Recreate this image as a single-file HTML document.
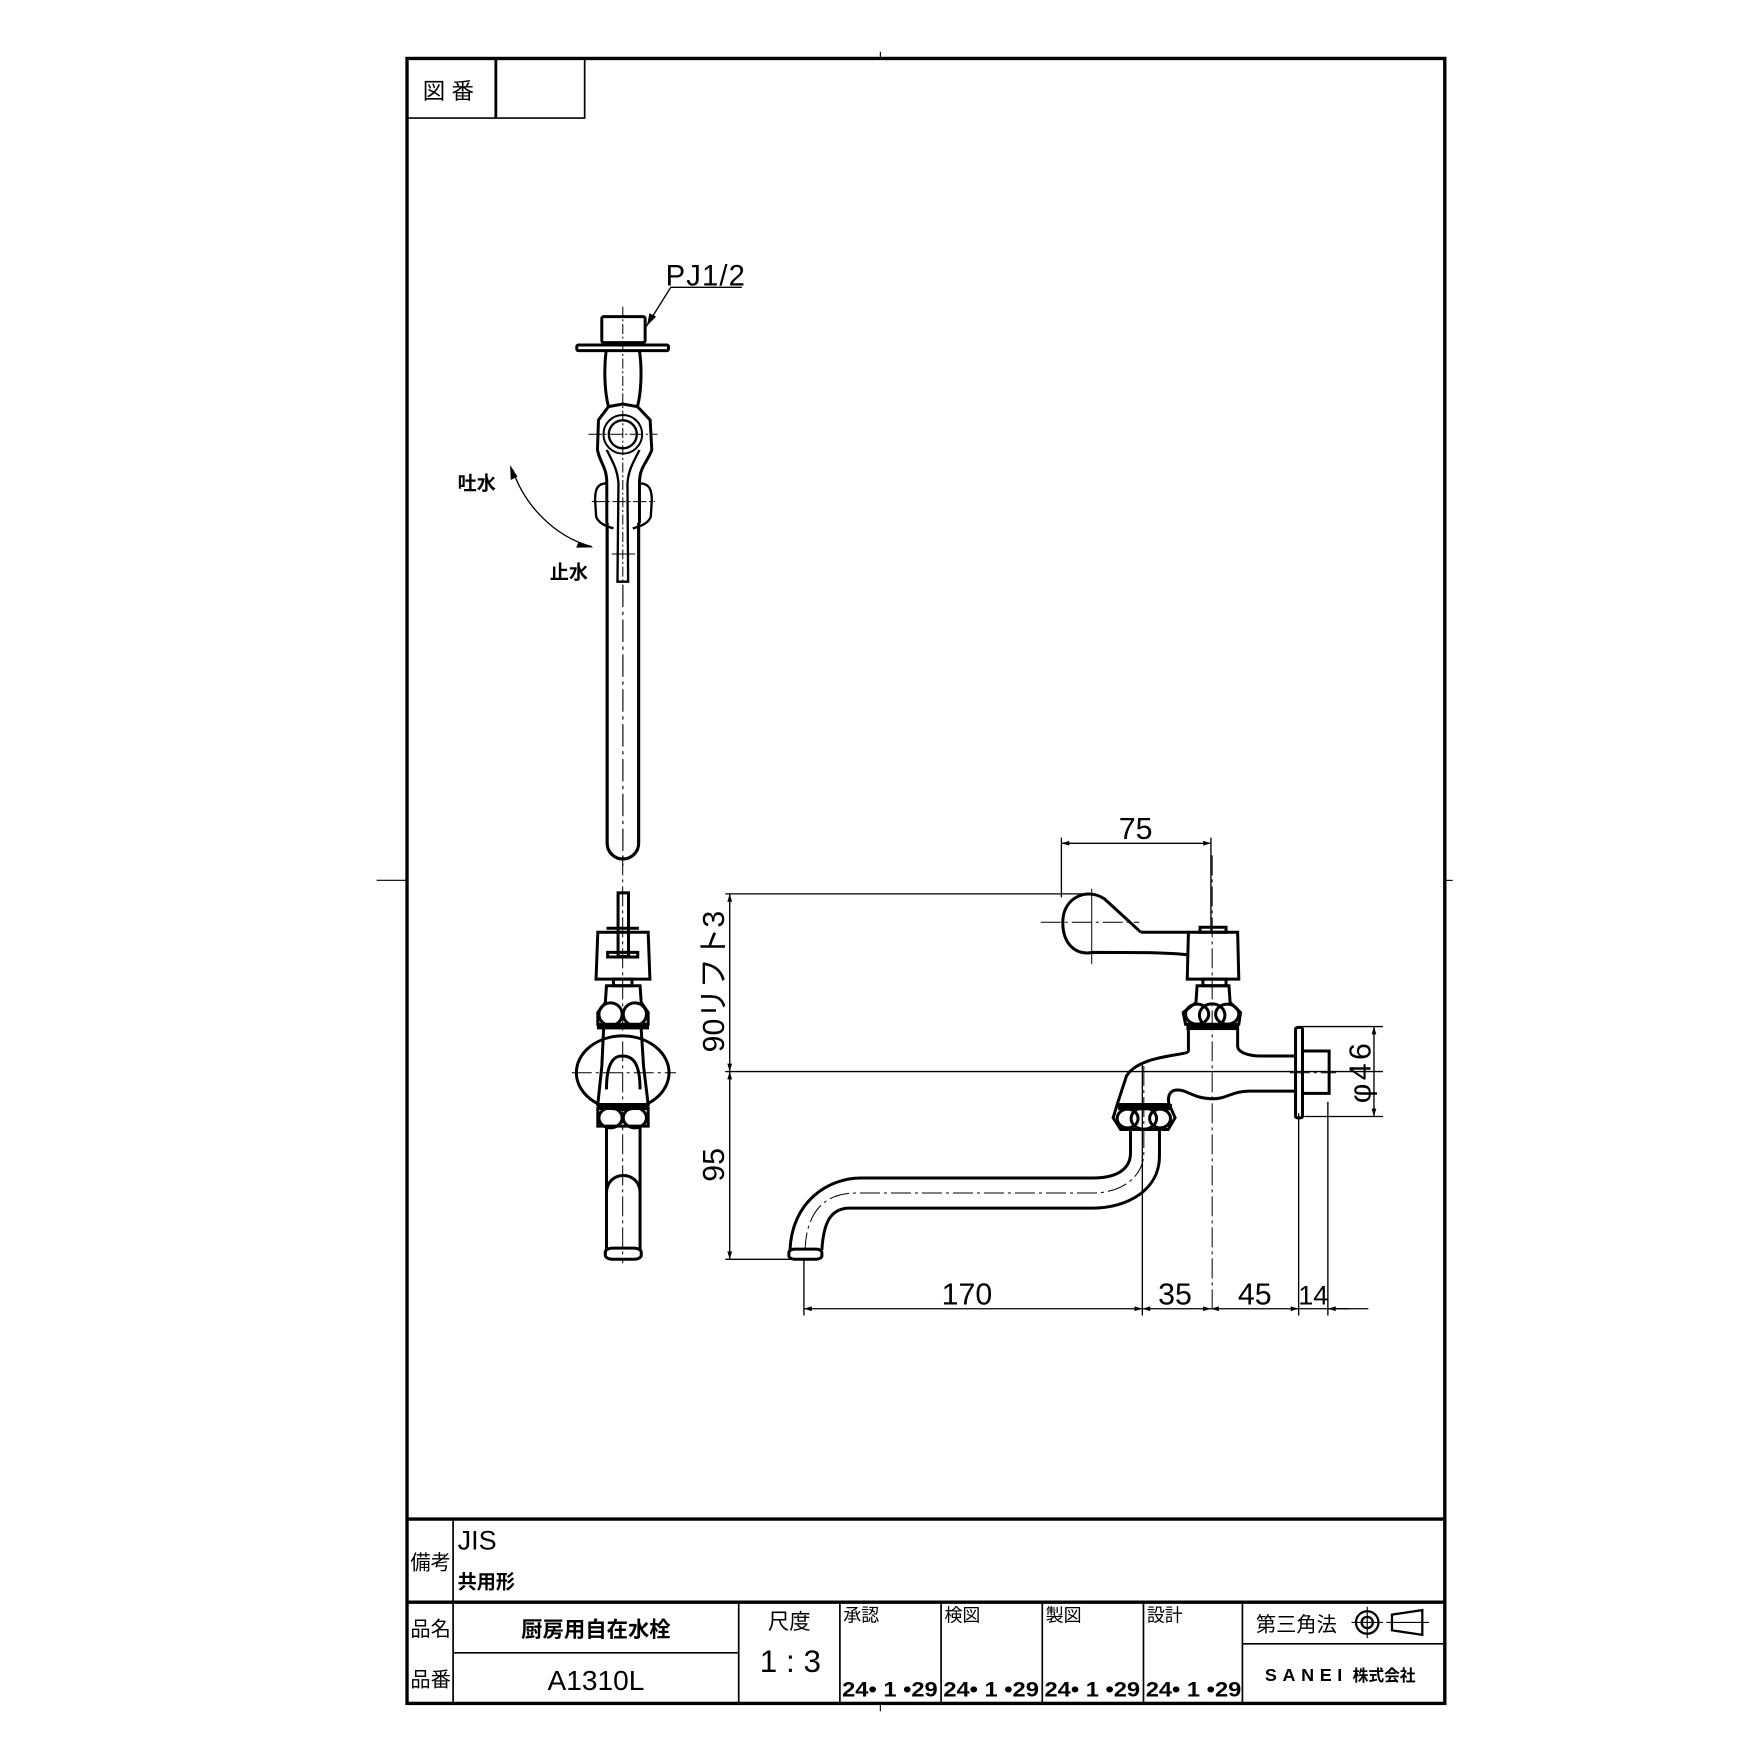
<!DOCTYPE html>
<html><head><meta charset="utf-8"><style>html,body{margin:0;padding:0;background:#fff}svg{display:block}</style></head>
<body>
<svg xmlns="http://www.w3.org/2000/svg" width="1754" height="1754" viewBox="0 0 1560 1560" font-family="'Liberation Sans','Noto Sans CJK JP',sans-serif">
<rect width="1560" height="1560" fill="#fff"/>
<defs>
<marker id="ar" viewBox="0 0 10 10" refX="10" refY="5" markerWidth="14" markerHeight="7" markerUnits="userSpaceOnUse" orient="auto-start-reverse"><path d="M0,2 L10,5 L0,8 z" fill="#000"/></marker>
</defs>
<!-- frame -->
<g fill="none" stroke="#000">
<rect x="362" y="52" width="923" height="1463" stroke-width="3"/>
<line x1="783" y1="46" x2="783" y2="52" stroke-width="1"/>
<line x1="335" y1="783" x2="362" y2="783" stroke-width="1"/>
<line x1="1285" y1="783" x2="1292" y2="783" stroke-width="1"/>
<line x1="783" y1="1515" x2="783" y2="1522" stroke-width="1"/>
<polyline points="362,105 520,105 520,52" stroke-width="1.5"/>
<line x1="441" y1="52" x2="441" y2="105" stroke-width="2.5"/>
<line x1="362" y1="1351" x2="1285" y2="1351" stroke-width="3"/>
<line x1="362" y1="1425" x2="1285" y2="1425" stroke-width="3"/>
<line x1="403" y1="1351" x2="403" y2="1515" stroke-width="1.5"/>
<line x1="403" y1="1470" x2="657" y2="1470" stroke-width="1.5"/>
<line x1="657" y1="1425" x2="657" y2="1515" stroke-width="1.5"/>
<line x1="747" y1="1425" x2="747" y2="1515" stroke-width="1.5"/>
<line x1="837" y1="1425" x2="837" y2="1515" stroke-width="1.5"/>
<line x1="927" y1="1425" x2="927" y2="1515" stroke-width="1.5"/>
<line x1="1017" y1="1425" x2="1017" y2="1515" stroke-width="1.5"/>
<line x1="1105" y1="1425" x2="1105" y2="1515" stroke-width="1.5"/>
<line x1="1105" y1="1462" x2="1285" y2="1462" stroke-width="1.5"/>
</g>
<g font-size="20">
<text x="376" y="88">図 番</text>
<text x="365" y="1396" font-size="18">備考</text>
<text x="407" y="1378" font-size="24">JIS</text>
<text x="407" y="1413" font-size="17" font-weight="bold">共用形</text>
<text x="365" y="1455" font-size="18">品名</text>
<text x="365" y="1500" font-size="18">品番</text>
<text x="530" y="1456" font-size="19" font-weight="bold" text-anchor="middle">厨房用自在水栓</text>
<text x="530" y="1503" font-size="25" text-anchor="middle">A1310L</text>
<text x="702" y="1449" font-size="19" text-anchor="middle">尺度</text>
<text x="703" y="1487" font-size="28" text-anchor="middle">1 : 3</text>
<text x="750" y="1442" font-size="16">承認</text>
<text x="840" y="1442" font-size="16">検図</text>
<text x="930" y="1442" font-size="16">製図</text>
<text x="1020" y="1442" font-size="16">設計</text>
<g font-size="19" font-weight="bold">
<text x="749" y="1509" textLength="85" lengthAdjust="spacingAndGlyphs">24• 1 •29</text>
<text x="839" y="1509" textLength="85" lengthAdjust="spacingAndGlyphs">24• 1 •29</text>
<text x="929" y="1509" textLength="85" lengthAdjust="spacingAndGlyphs">24• 1 •29</text>
<text x="1019" y="1509" textLength="85" lengthAdjust="spacingAndGlyphs">24• 1 •29</text>
</g>
<text x="1117" y="1451" font-size="18">第三角法</text>
<text x="1125" y="1495" font-size="16" font-weight="bold" letter-spacing="5">SANEI</text>
<text x="1203" y="1495" font-size="14" font-weight="bold">株式会社</text>
</g>
<g fill="none" stroke="#000">
<circle cx="1216" cy="1443" r="10" stroke-width="2"/><circle cx="1216" cy="1443" r="5" stroke-width="2"/>
<line x1="1202" y1="1443" x2="1230" y2="1443" stroke-width="1"/><line x1="1216" y1="1429" x2="1216" y2="1457" stroke-width="1"/>
<path d="M1238,1436 L1265,1432 L1265,1454 L1238,1450 z" stroke-width="2"/>
<line x1="1233" y1="1443" x2="1271" y2="1443" stroke-width="1"/>
</g>

<!-- top view -->
<g transform="translate(385.5,222.3) scale(0.2965)" fill="none" stroke="#000" stroke-width="9">
<rect x="505" y="200" width="130" height="78" rx="6"/>
<rect x="430" y="285" width="275" height="17" rx="5"/>
<path d="M518,302 C512,350 512,420 525,470 L495,510 L492,600 C500,640 520,650 520,700 L520,820"/>
<path d="M618,302 C625,350 625,420 612,470 L650,510 L655,600 C640,640 618,650 618,700 L618,820"/>
<path d="M525,470 L568,462 L612,470"/>
<circle cx="568" cy="553" r="42" stroke-width="7"/>
<circle cx="568" cy="553" r="58" stroke-width="6"/>
<path d="M520,600 C540,640 552,660 555,700 L552,995 L584,995 L582,700 C585,660 598,640 618,600" stroke-width="7"/>
<path d="M520,700 C490,700 485,720 485,750 L488,800 C495,820 520,830 540,835" stroke-width="7"/>
<path d="M618,700 C648,700 655,720 655,750 L652,800 C645,820 620,830 598,835" stroke-width="7"/>
<path d="M568,170 L568,1000" stroke-width="3" stroke-dasharray="30,8,6,8"/>
<line x1="465" y1="553" x2="672" y2="553" stroke-width="3" stroke-dasharray="40,8,6,8"/>
<line x1="475" y1="755" x2="665" y2="755" stroke-width="3" stroke-dasharray="40,8,6,8"/>
<line x1="535" y1="912" x2="605" y2="912" stroke-width="3"/>
<path d="M238,660 C270,760 360,860 475,890" stroke-width="4"/>
<polyline points="635,235 712,112 925,112" stroke-width="4"/>
<path d="M640,228 L648,190 L668,200 z" fill="#000" stroke="none"/>
<path d="M230,645 L232,690 L252,680 z" fill="#000" stroke="none"/>
<path d="M480,892 L436,875 L428,893 z" fill="#000" stroke="none"/>
</g>
<text x="592" y="254" font-size="26" letter-spacing="1">PJ1/2</text>
<text x="407" y="436" font-size="17" font-weight="bold">吐水</text>
<text x="489" y="515" font-size="17" font-weight="bold">止水</text>
<g fill="none" stroke="#000">
<path d="M540,465 L540,750 A14,14 0 0 0 568,750 L568,465" stroke-width="2.8"/>
<line x1="554" y1="520" x2="554" y2="770" stroke-width="1" stroke-dasharray="20,4,3,4"/>
</g>

<!-- front & side views -->
<g transform="translate(446.7,760.8) scale(0.515,0.2973)" fill="none" stroke="#000" stroke-width="3" vector-effect="non-scaling-stroke">
<g vector-effect="non-scaling-stroke">
<rect x="200" y="112" width="18" height="190" vector-effect="non-scaling-stroke"/>
<path d="M165,230 L252,230 L255,370 L162,370 z" vector-effect="non-scaling-stroke"/>
<rect x="182" y="290" width="52" height="14" vector-effect="non-scaling-stroke"/>
<line x1="180" y1="218" x2="236" y2="218" vector-effect="non-scaling-stroke"/>
<rect x="192" y="370" width="32" height="20" vector-effect="non-scaling-stroke"/>
<path d="M180,390 L238,390 L240,440 L252,470 L252,505 L165,505 L165,470 L178,440 z" vector-effect="non-scaling-stroke"/>
<ellipse cx="187" cy="475" rx="20" ry="34" vector-effect="non-scaling-stroke"/><ellipse cx="229" cy="475" rx="20" ry="34" vector-effect="non-scaling-stroke"/>
<rect x="165" y="505" width="87" height="14" fill="#000"/>
<ellipse cx="208" cy="650" rx="80" ry="110" vector-effect="non-scaling-stroke"/>
<path d="M175,520 L172,630 L165,745 L252,745 L244,630 L240,520" vector-effect="non-scaling-stroke"/>
<path d="M180,700 C180,600 200,600 208,600 C225,600 238,620 238,700" vector-effect="non-scaling-stroke"/>
<rect x="165" y="745" width="87" height="14" fill="#000"/>
<path d="M165,757 L252,757 L252,810 L165,810 z" vector-effect="non-scaling-stroke"/>
<ellipse cx="187" cy="785" rx="20" ry="30" vector-effect="non-scaling-stroke"/><ellipse cx="229" cy="785" rx="20" ry="30" vector-effect="non-scaling-stroke"/>
<path d="M180,815 L180,1180 M238,815 L238,1180" vector-effect="non-scaling-stroke"/>
<path d="M180,1010 C180,940 238,940 238,1010" vector-effect="non-scaling-stroke"/>
<rect x="178" y="1175" width="62" height="33" rx="12" vector-effect="non-scaling-stroke"/>
<line x1="208" y1="0" x2="208" y2="1220" stroke-width="1" stroke-dasharray="20,4,3,4" vector-effect="non-scaling-stroke"/>
<line x1="120" y1="650" x2="300" y2="650" stroke-width="1" stroke-dasharray="20,4,3,4" vector-effect="non-scaling-stroke"/>
<!-- side view -->
<path d="M1103,230 L1040,130 C1010,95 968,125 968,200 C968,265 990,300 1020,290 C1080,290 1150,290 1185,298" vector-effect="non-scaling-stroke"/>
<path d="M1103,230 L1185,230" vector-effect="non-scaling-stroke"/>
<path d="M1185,230 L1270,230 L1272,370 L1183,370 z" vector-effect="non-scaling-stroke"/>
<rect x="1205" y="215" width="45" height="15" vector-effect="non-scaling-stroke"/>
<rect x="1210" y="370" width="40" height="20" vector-effect="non-scaling-stroke"/>
<path d="M1200,390 L1255,390 L1257,440 L1275,470 L1272,505 L1180,505 L1176,470 L1198,440 z" vector-effect="non-scaling-stroke"/>
<ellipse cx="1200" cy="475" rx="20" ry="30" vector-effect="non-scaling-stroke"/><ellipse cx="1226" cy="478" rx="22" ry="34" vector-effect="non-scaling-stroke"/><ellipse cx="1252" cy="475" rx="20" ry="30" vector-effect="non-scaling-stroke"/>
<rect x="1183" y="505" width="88" height="16" fill="#000"/>
<path d="M1185,519 L1185,585 C1185,600 1100,595 1078,660 L1062,745" vector-effect="non-scaling-stroke"/>
<path d="M1270,519 L1270,570 C1270,590 1290,600 1310,600 L1368,600" vector-effect="non-scaling-stroke"/>
<path d="M1368,705 L1290,705 C1260,705 1250,730 1225,728 C1190,726 1180,695 1160,703 C1148,710 1150,738 1152,748" vector-effect="non-scaling-stroke"/>
<rect x="1370" y="515" width="12" height="270" rx="4" vector-effect="non-scaling-stroke"/>
<rect x="1382" y="585" width="46" height="127" vector-effect="non-scaling-stroke"/>
<path d="M1062,745 L1152,745 L1162,785 L1150,820 L1068,820 L1055,785 z" vector-effect="non-scaling-stroke"/>
<rect x="1065" y="745" width="90" height="16" fill="#000"/>
<ellipse cx="1080" cy="787" rx="18" ry="28" vector-effect="non-scaling-stroke"/><ellipse cx="1108" cy="787" rx="22" ry="32" vector-effect="non-scaling-stroke"/><ellipse cx="1136" cy="787" rx="18" ry="28" vector-effect="non-scaling-stroke"/>
<path d="M1135,820 L1135,900 C1135,1000 1080,1055 1020,1055 L600,1055 C570,1055 555,1090 552,1180" vector-effect="non-scaling-stroke"/>
<path d="M1085,820 L1085,890 C1085,940 1060,965 1020,965 L620,965 C560,965 500,1040 497,1180" vector-effect="non-scaling-stroke"/>
<rect x="495" y="1178" width="57" height="30" rx="10" vector-effect="non-scaling-stroke"/>
<path d="M1108,630 L1108,890 C1108,960 1070,1010 1020,1010 L610,1010 C555,1010 525,1070 523,1180" stroke-width="1" stroke-dasharray="20,4,3,4" vector-effect="non-scaling-stroke"/>
<line x1="1226" y1="0" x2="1226" y2="1370" stroke-width="1" stroke-dasharray="20,4,3,4" vector-effect="non-scaling-stroke"/>
<line x1="930" y1="200" x2="1100" y2="200" stroke-width="1" stroke-dasharray="20,4,3,4" vector-effect="non-scaling-stroke"/>
<line x1="1018" y1="100" x2="1018" y2="325" stroke-width="1" vector-effect="non-scaling-stroke"/>
<line x1="1360" y1="650" x2="1440" y2="650" stroke-width="1" stroke-dasharray="20,4,3,4" vector-effect="non-scaling-stroke"/>
</g>
</g>

<!-- dimensions -->
<g fill="none" stroke="#000" stroke-width="1.2">
<line x1="944" y1="745" x2="944" y2="798"/>
<line x1="1077" y1="745" x2="1077" y2="830"/>
<line x1="944" y1="750" x2="1077" y2="750" marker-start="url(#ar)" marker-end="url(#ar)"/>
<line x1="645" y1="795" x2="968" y2="795"/>
<line x1="645" y1="953" x2="1230" y2="953"/>
<line x1="645" y1="1120" x2="705" y2="1120"/>
<line x1="649" y1="795" x2="649" y2="953" marker-start="url(#ar)" marker-end="url(#ar)"/>
<line x1="649" y1="953" x2="649" y2="1120" marker-start="url(#ar)" marker-end="url(#ar)"/>
<line x1="1155" y1="913" x2="1230" y2="913"/>
<line x1="1160" y1="993" x2="1230" y2="993"/>
<line x1="1222" y1="913" x2="1222" y2="993" marker-start="url(#ar)" marker-end="url(#ar)"/>
<line x1="715" y1="1120" x2="715" y2="1170"/>
<line x1="1016" y1="945" x2="1016" y2="1170"/>
<line x1="1155" y1="990" x2="1155" y2="1170"/>
<line x1="1181" y1="980" x2="1181" y2="1170"/>
<line x1="715" y1="1164" x2="1016" y2="1164" marker-start="url(#ar)" marker-end="url(#ar)"/>
<line x1="1016" y1="1164" x2="1077" y2="1164" marker-start="url(#ar)" marker-end="url(#ar)"/>
<line x1="1077" y1="1164" x2="1155" y2="1164" marker-start="url(#ar)" marker-end="url(#ar)"/>
<line x1="1155" y1="1164" x2="1181" y2="1164"/>
<line x1="1181" y1="1164" x2="1217" y2="1164"/>
<line x1="1200" y1="1164" x2="1181" y2="1164" marker-end="url(#ar)"/>
</g>
<g font-size="27" text-anchor="middle">
<text x="1010" y="746">75</text>
<text x="860" y="1160">170</text>
<text x="1045" y="1160">35</text>
<text x="1116" y="1160">45</text>
<text x="1168" y="1160" font-size="24">14</text>
<text transform="translate(644,873) rotate(-90)">90リフト3</text>
<text transform="translate(644,1036) rotate(-90)">95</text>
<text transform="translate(1219,953) rotate(-90)" letter-spacing="3">φ46</text>
</g>
</svg>
</body></html>
